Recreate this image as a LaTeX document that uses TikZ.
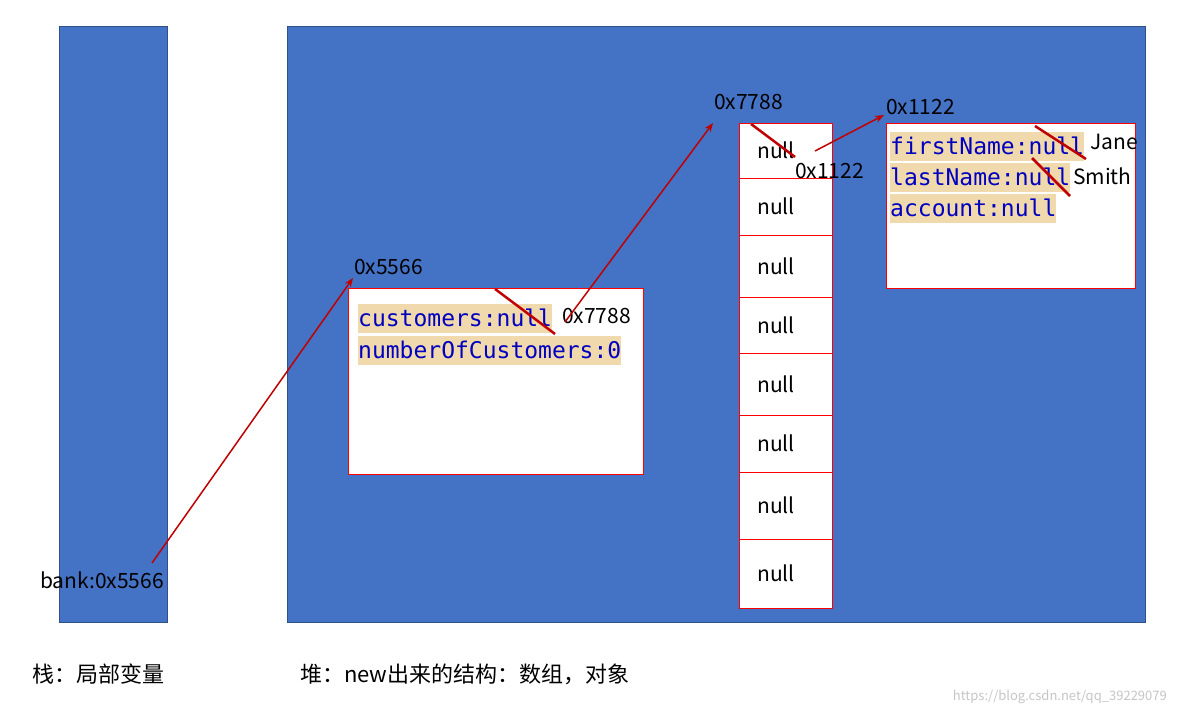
\documentclass[tikz,border=0pt]{standalone}
\usepackage{fontspec}
\setmainfont{Noto Sans CJK SC}
\setmonofont{DejaVu Sans Mono}
\usetikzlibrary{arrows.meta}
\definecolor{bblue}{HTML}{4472C4}
\definecolor{cblue}{HTML}{0000C0}
\definecolor{hl}{HTML}{F0D9AC}
\definecolor{dred}{HTML}{C00000}
\tikzset{
 area/.style={fill=bblue,draw=bblue!70!black,line width=0.6pt},
 obj/.style={fill=white,draw=red,line width=1pt},
 lbl/.style={font=\fontsize{21}{22}\selectfont,inner sep=0pt,anchor=west},
 code/.style={font=\ttfamily\fontsize{23}{24}\selectfont,text=cblue,fill=hl,inner sep=0pt,anchor=west,minimum height=29pt},
 ptr/.style={draw=dred,line width=1.5pt,-{Stealth[length=9pt,width=7pt]}},
 strike/.style={draw=dred,line width=2.5pt},
 cell/.style={lbl,anchor=center}
}
\begin{document}
\begin{tikzpicture}[x=1pt,y=-1pt]
\useasboundingbox (0,0) rectangle (1177,715);
\fill[white] (0,0) rectangle (1177,715);
\draw[area] (59,26) rectangle (167,622);
\draw[area] (287,26) rectangle (1145,622);
\draw[obj] (348,288) rectangle (643,474);
\draw[obj] (886,123) rectangle (1135,288);
\foreach \a/\b [count=\i] in {123/178,178/235,235/297,297/353,353/415,415/472,472/539,539/608}{
  \draw[obj] (739,\a) rectangle (832,\b);
  \node[cell] (c\i) at (776,{(\a+\b)/2}) {null};
}
\node[code] (cu) at (358,318) {customers:null};
\node[code] (nc) at (358,350) {numberOfCustomers:0};
\node[code] (fn) at (890,146) {firstName:null};
\node[code] (ln) at (890,177) {lastName:null};
\node[code] (ac) at (890,208) {account:null};
\node[lbl] (bank) at (40,580) {bank:0x5566};
\node[lbl] (a1) at (354,267) {0x5566};
\node[lbl,fill=white] (a2) at (562,316) {0x7788};
\node[lbl] (a3) at (714,102) {0x7788};
\node[lbl] (a4) at (886,107) {0x1122};
\node[lbl] (a5) at (795,171) {0x1122};
\node[lbl] (j) at (1090,142) {Jane};
\node[lbl] (s) at (1073,176) {Smith};
\coordinate (p1) at (152,563); \coordinate (q1) at (353,278);
\coordinate (p2) at (565,322); \coordinate (q2) at (713,123);
\coordinate (p3) at (815,151); \coordinate (q3) at (884,115);
\draw[ptr] (p1) -- (q1);
\draw[ptr] (p2) -- (q2);
\draw[ptr] (p3) -- (q3);
\coordinate (s1) at (495,289); \coordinate (t1) at (555,334);
\coordinate (s2) at (751,124); \coordinate (t2) at (795,157);
\coordinate (s3) at (1035,126); \coordinate (t3) at (1086,159);
\coordinate (s4) at (1032,158); \coordinate (t4) at (1070,196);
\draw[strike] (s1) -- (t1);
\draw[strike] (s2) -- (t2);
\draw[strike] (s3) -- (t3);
\draw[strike] (s4) -- (t4);
\node[lbl,font=\fontsize{22}{24}\selectfont] (z) at (32,674) {栈：局部变量};
\node[lbl,font=\fontsize{22}{24}\selectfont] (h) at (300,674) {堆：new出来的结构：数组，对象};
\node[lbl,anchor=east,font=\fontsize{13}{14}\selectfont,text=gray!45] (w) at (1167,697) {https://blog.csdn.net/qq\_39229079};
\end{tikzpicture}
\end{document}
